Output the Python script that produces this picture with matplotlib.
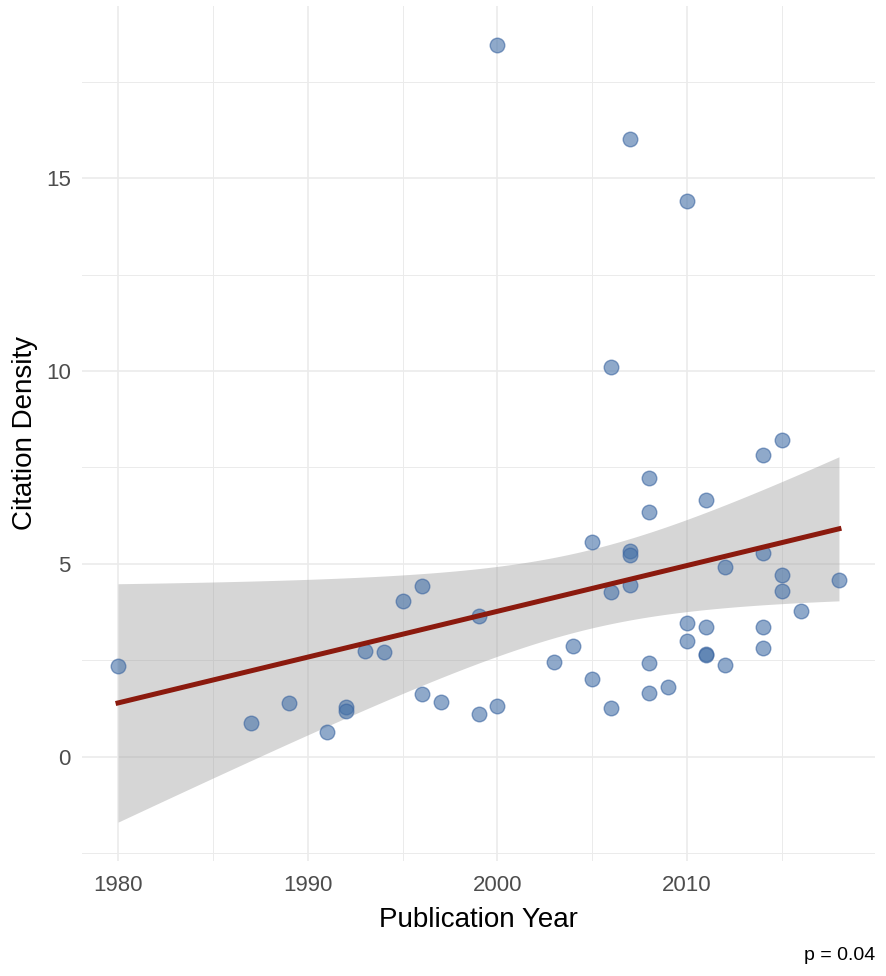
import matplotlib
matplotlib.use("Agg")
import matplotlib.pyplot as plt
import numpy as np
from matplotlib.ticker import MultipleLocator

# publication year and citation density for each paper
years = np.array([1980, 1987, 1989, 1991, 1992, 1992, 1993, 1994, 1995, 1996,
                  1996, 1997, 1999, 1999, 2000, 2000, 2003, 2004, 2005, 2005,
                  2006, 2006, 2006, 2007, 2007, 2007, 2007, 2008, 2008, 2008,
                  2008, 2009, 2010, 2010, 2010, 2011, 2011, 2011, 2011, 2012,
                  2012, 2014, 2014, 2014, 2014, 2015, 2015, 2015, 2016, 2018])
density = np.array([2.36, 0.88, 1.40, 0.65, 1.30, 1.19, 2.75, 2.72, 4.04, 4.43,
                    1.63, 1.42, 3.65, 1.11, 18.45, 1.32, 2.46, 2.88, 5.57, 2.02,
                    10.10, 4.27, 1.27, 16.01, 5.34, 5.23, 4.46, 7.23, 6.35, 2.44,
                    1.66, 1.81, 14.40, 3.47, 3.01, 6.66, 3.37, 2.67, 2.65, 4.92,
                    2.38, 7.82, 5.28, 3.37, 2.82, 8.21, 4.71, 4.30, 3.78, 4.59])
p_label = "p = 0.04"

# linear fit with 95% confidence band (like geom_smooth(method="lm"))
n = len(years)
slope, intercept = np.polyfit(years, density, 1)
xs = np.linspace(years.min(), years.max(), 200)
fit = intercept + slope * xs
resid = density - (intercept + slope * years)
s = np.sqrt(np.sum(resid ** 2) / (n - 2))
sxx = np.sum((years - years.mean()) ** 2)
se = s * np.sqrt(1.0 / n + (xs - years.mean()) ** 2 / sxx)
t_crit = 2.0106  # t(0.975, df=48)
lower = fit - t_crit * se
upper = fit + t_crit * se

plt.rcParams["font.family"] = ["Liberation Sans", "DejaVu Sans"]

fig = plt.figure(figsize=(8.86, 9.76), dpi=100)
ax = fig.add_axes([82 / 886, 115 / 976, 793 / 886, 855 / 976])

ax.fill_between(xs, lower, upper, color="#999999", alpha=0.4, linewidth=0, zorder=2)
ax.scatter(years, density, s=110, facecolor="#4471A8", edgecolor="#3A64A0",
           alpha=0.6, linewidth=1.0, zorder=3)
ax.plot(xs, fit, color="#8B1A0E", linewidth=3.6, zorder=4)

# ggplot style 5% expansion
ylo = min(density.min(), lower.min())
yhi = max(density.max(), upper.max())
ax.set_ylim(ylo - 0.05 * (yhi - ylo), yhi + 0.05 * (yhi - ylo))
ax.set_xlim(years.min() - 0.05 * (years.max() - years.min()),
            years.max() + 0.05 * (years.max() - years.min()))

ax.xaxis.set_major_locator(MultipleLocator(10))
ax.xaxis.set_minor_locator(MultipleLocator(5))
ax.yaxis.set_major_locator(MultipleLocator(5))
ax.yaxis.set_minor_locator(MultipleLocator(2.5))
ax.grid(which="major", color="#EBEBEB", linewidth=1.2, zorder=0)
ax.grid(which="minor", color="#EBEBEB", linewidth=0.7, zorder=0)
ax.set_axisbelow(True)
for sp in ax.spines.values():
    sp.set_visible(False)
ax.tick_params(which="both", length=0, labelsize=16, labelcolor="#4D4D4D")
ax.tick_params(axis="x", pad=10)
ax.tick_params(axis="y", pad=8)

ax.set_xlabel("Publication Year", fontsize=20, labelpad=8)
ax.set_ylabel("Citation Density", fontsize=20, labelpad=6)
fig.text(875 / 886, 12 / 976, p_label, ha="right", va="bottom", fontsize=14)

fig.savefig("out.png", dpi=100)
